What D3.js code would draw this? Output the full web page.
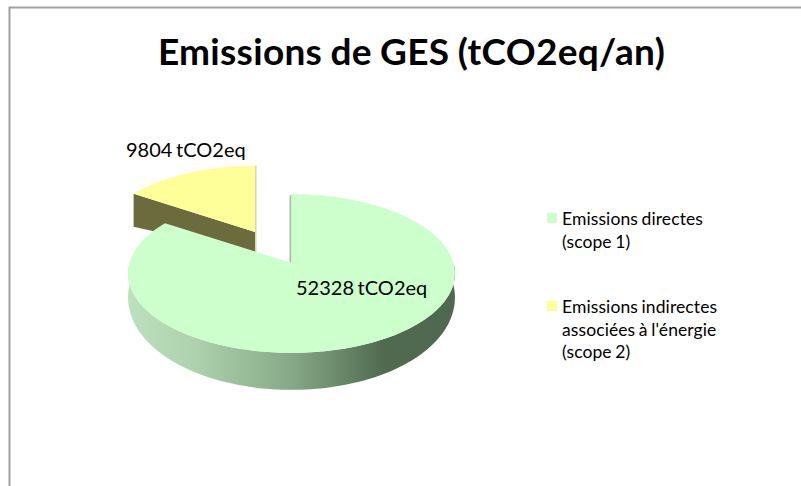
<!DOCTYPE html>
<html>
<head>
<meta charset="utf-8">
<script src="https://cdn.jsdelivr.net/npm/d3@7"></script>
<style>
    html, body { margin: 0; background: #fff; }
    svg { display: block; }
    text { font-family: Lato, "Open Sans", sans-serif; fill: #000; }
</style>
</head>
<body>
<svg width="801" height="486"></svg>
<script>
const categories = ["Emissions directes (scope 1)", "Emissions indirectes associées à l'énergie (scope 2)"];
const values = [52328, 9804];
const dataLabels = ["52328 tCO2eq", "9804 tCO2eq"];
const colors = ["#ccffcc", "#ffff99"];
const legendLines = [["Emissions directes", "(scope 1)"], ["Emissions indirectes", "associées à l'énergie", "(scope 2)"]];

const svg = d3.select("svg");

// frame, open at the right and the bottom
svg.append("path")
    .attr("d", "M9.5,486V7.5H801")
    .attr("fill", "none")
    .attr("stroke", "#a0a0a0")
    .attr("stroke-width", 2);

svg.append("text")
    .attr("x", 411.5)
    .attr("y", 65)
    .attr("text-anchor", "middle")
    .attr("font-size", 37)
    .attr("font-weight", 700)
    .attr("letter-spacing", 0.3)
    .attr("word-spacing", -1)
    .text("Emissions de GES (tCO2eq/an)");

const slices = d3.pie().sort(null)(values);

// fake 3D: perspective tilt, the near side of the disc is drawn bigger
const tilt = 0.132;
const rx = d3.scaleLinear().domain([-1, 1]).range([-162, 162]);
const ry = d3.scaleLinear().domain([-1, 1]).range([-78, 78]);

function project(a, centre, scale) {
    const s = -Math.cos(a), c = Math.sin(a), w = 1 - tilt * s;
    return [centre[0] + scale * rx(c) / w, centre[1] + scale * ry(s) / w];
}
// how far the lower rim sits under the upper rim
function depth(a) {
    const s = -Math.cos(a);
    return s > 0 ? 22 + 15 * s : 22;
}
function arcPoints(a0, a1, centre, scale, lower) {
    return d3.range(0, 121).map(i => {
        const a = a0 + (a1 - a0) * i / 120;
        const p = project(a, centre, scale);
        return lower ? [p[0], p[1] + depth(a)] : p;
    });
}

const centres = [[291.5, 263], [255, 232]];
const scales = [1, 0.96];
const line = d3.line();

const grad = svg.append("defs").append("linearGradient")
    .attr("id", "rim")
    .attr("gradientUnits", "userSpaceOnUse")
    .attr("x1", 129).attr("x2", 456).attr("y1", 0).attr("y2", 0);
[[0, "#bde0bd"], [0.2, "#add2ad"], [0.5, "#86a886"], [0.78, "#506a50"], [1, "#4f6850"]].forEach(d => {
    grad.append("stop").attr("offset", d[0]).attr("stop-color", d[1]);
});

// yellow slice goes first, the green disc overlaps its side
const y = slices[1];
const yellowStart = project(y.startAngle, centres[1], scales[1]);
svg.append("path")
    .attr("d", line([
        centres[1],
        yellowStart,
        [yellowStart[0], yellowStart[1] + 33],
        [centres[1][0], centres[1][1] + 22]
    ]) + "Z")
    .attr("fill", "#6b6b3e");
svg.append("path")
    .attr("d", line([
        [centres[1][0], project(y.endAngle, centres[1], scales[1])[1]],
        [centres[1][0] + 1.5, project(y.endAngle, centres[1], scales[1])[1]],
        [centres[1][0] + 1.5, centres[1][1] + 22],
        [centres[1][0], centres[1][1] + 22]
    ]) + "Z")
    .attr("fill", "#d8d8a8");
svg.append("path")
    .attr("d", line([centres[1], ...arcPoints(y.startAngle, y.endAngle, centres[1], scales[1], false)]) + "Z")
    .attr("fill", colors[1]);

// green slice: rim, thin cut face, top
const g = slices[0];
const rimTop = arcPoints(Math.PI / 2, 3 * Math.PI / 2, centres[0], scales[0], false);
const rimLow = arcPoints(Math.PI / 2, 3 * Math.PI / 2, centres[0], scales[0], true).reverse();
svg.append("path")
    .attr("d", line([...rimTop, ...rimLow]) + "Z")
    .attr("fill", "url(#rim)");
const gTop = project(g.startAngle, centres[0], scales[0]);
svg.append("path")
    .attr("d", line([
        [gTop[0] - 2, gTop[1] + 2],
        [gTop[0], gTop[1]],
        [centres[0][0], centres[0][1]],
        [centres[0][0] - 2, centres[0][1] - 1]
    ]) + "Z")
    .attr("fill", "#a8c0a8");
svg.append("path")
    .attr("d", line([centres[0], ...arcPoints(g.startAngle, g.endAngle, centres[0], scales[0], false)]) + "Z")
    .attr("fill", colors[0]);

// data labels
svg.append("text").attr("x", 296).attr("y", 295).attr("font-size", 20).attr("word-spacing", -1.5).text(dataLabels[0]);
svg.append("text").attr("x", 126).attr("y", 157).attr("font-size", 20).attr("word-spacing", -1.5).text(dataLabels[1]);

// legend
const legendY = [225, 313];
legendLines.forEach((lines, i) => {
    svg.append("rect")
        .attr("x", 547).attr("y", legendY[i] - 12)
        .attr("width", 10).attr("height", 10)
        .attr("fill", colors[i])
        .append("title").text(categories[i]);
    svg.selectAll(null)
        .data(lines)
        .enter()
        .append("text")
        .attr("x", 562)
        .attr("y", (d, j) => legendY[i] + j * 22.5)
        .attr("font-size", 17.5)
        .attr("letter-spacing", 0.1)
        .attr("word-spacing", -1)
        .text(d => d);
});
</script>
</body>
</html>
